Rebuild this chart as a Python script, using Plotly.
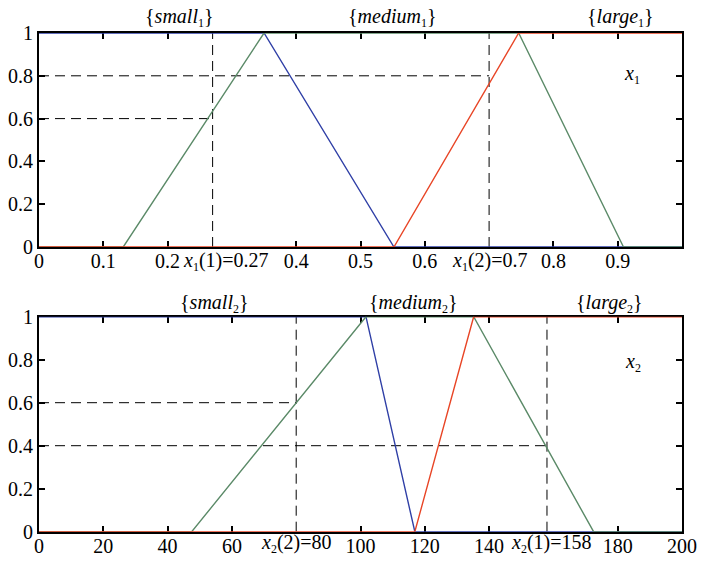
import plotly.graph_objects as go

# Membership functions for input x1 (universe 0..1)
x1_small = [0, 0.35, 0.552, 1]
mu1_small = [1, 1, 0, 0]
x1_medium = [0, 0.131, 0.35, 0.746, 0.909, 1]
mu1_medium = [0, 0, 1, 1, 0, 0]
x1_large = [0, 0.552, 0.746, 1]
mu1_large = [0, 0, 1, 1]

# Membership functions for input x2 (universe 0..200)
x2_small = [0, 101.7, 116.9, 200]
mu2_small = [1, 1, 0, 0]
x2_medium = [0, 47.5, 101.7, 135.2, 172.5, 200]
mu2_medium = [0, 0, 1, 1, 0, 0]
x2_large = [0, 116.9, 135.2, 200]
mu2_large = [0, 0, 1, 1]

# Sample inputs and their membership grades
x1_samples = [0.27, 0.7]
x1_grades = [0.6, 0.8]
x2_samples = [80, 158]
x2_grades = [0.6, 0.4]

# Tick labels
x1_ticks = [0, 0.1, 0.2, 0.4, 0.5, 0.6, 0.8, 0.9]
x1_ticktext = ["0", "0.1", "0.2", "0.4", "0.5", "0.6", "0.8", "0.9"]
x2_ticks = [0, 20, 40, 60, 100, 120, 140, 180, 200]
x2_ticktext = ["0", "20", "40", "60", "100", "120", "140", "180", "200"]
y_ticks = [0, 0.2, 0.4, 0.6, 0.8, 1]
y_ticktext = ["0", "0.2", "0.4", "0.6", "0.8", "1"]

BLUE = "#2f3fa6"
GREEN = "#5b8a68"
RED = "#e84526"
FONT = "Liberation Serif"
FS = 20

fig = go.Figure()

def add_mfs(xs, ys, xa, ya):
    for (x, y), c in zip(zip(xs, ys), [BLUE, GREEN, RED]):
        fig.add_trace(go.Scatter(x=x, y=y, xaxis=xa, yaxis=ya, mode="lines",
                                 line=dict(color=c, width=1.4), cliponaxis=False,
                                 showlegend=False, hoverinfo="skip"))

def add_cuts(samples, grades, xa, ya):
    for s, g in zip(samples, grades):
        fig.add_trace(go.Scatter(x=[s, s], y=[0, 1], xaxis=xa, yaxis=ya, mode="lines",
                                 line=dict(color="black", width=1, dash="10px,6px"),
                                 showlegend=False, hoverinfo="skip"))
        fig.add_trace(go.Scatter(x=[0, s], y=[g, g], xaxis=xa, yaxis=ya, mode="lines",
                                 line=dict(color="black", width=1, dash="10px,6px"),
                                 showlegend=False, hoverinfo="skip"))

add_cuts(x1_samples, x1_grades, "x", "y")
add_mfs([x1_small, x1_medium, x1_large], [mu1_small, mu1_medium, mu1_large], "x", "y")
add_cuts(x2_samples, x2_grades, "x2", "y2")
add_mfs([x2_small, x2_medium, x2_large], [mu2_small, mu2_medium, mu2_large], "x2", "y2")

axis_common = dict(showline=True, linecolor="black", linewidth=2, mirror="ticks",
                   ticks="inside", ticklen=6, tickwidth=2, tickcolor="black",
                   showgrid=False, zeroline=False, layer="below traces",
                   automargin=False,
                   tickfont=dict(family=FONT, size=FS, color="black"))

top_dom = [316 / 563, 530 / 563]
bot_dom = [31.3 / 563, 246.3 / 563]

fig.update_layout(
    width=704, height=563,
    margin=dict(l=39, r=22, t=0, b=0, autoexpand=False),
    paper_bgcolor="white", plot_bgcolor="white",
    font=dict(family=FONT, size=FS, color="black"),
    xaxis=dict(range=[0, 1], tickvals=x1_ticks, ticktext=x1_ticktext,
               anchor="y", ticklabelstandoff=-5, **axis_common),
    yaxis=dict(range=[0, 1], tickvals=y_ticks, ticktext=y_ticktext,
               domain=top_dom, anchor="x", **axis_common),
    xaxis2=dict(range=[0, 200], tickvals=x2_ticks, ticktext=x2_ticktext,
                anchor="y2", ticklabelstandoff=-5, **axis_common),
    yaxis2=dict(range=[0, 1], tickvals=y_ticks, ticktext=y_ticktext,
                domain=bot_dom, anchor="x2", **axis_common),
)

def sub(s):
    return "<sub><span style='font-size:12px'>%s</span></sub>" % s

def label(text, x, y, xref, yref):
    fig.add_annotation(text=text, x=x, y=y, xref=xref, yref=yref, showarrow=False,
                       xanchor="center", yanchor="middle",
                       font=dict(family=FONT, size=FS, color="black"))

# Fuzzy set names above each panel
label("{<i>small</i>" + sub(1) + "}", 0.219, 0.9698, "x", "paper")
label("{<i>medium</i>" + sub(1) + "}", 0.549, 0.9698, "x", "paper")
label("{<i>large</i>" + sub(1) + "}", 0.904, 0.9698, "x", "paper")
label("{<i>small</i>" + sub(2) + "}", 54.7, 0.4618, "x2", "paper")
label("{<i>medium</i>" + sub(2) + "}", 116.6, 0.4618, "x2", "paper")
label("{<i>large</i>" + sub(2) + "}", 177.6, 0.4618, "x2", "paper")

# Input variable names
label("<i>x</i>" + sub(1), 0.922, 0.804, "x", "y")
label("<i>x</i>" + sub(2), 184.8, 0.789, "x2", "y2")

# Sample values written on the x axes
label("<i>x</i>" + sub(1) + "(1)=%g" % x1_samples[0], 0.291, 0.5364, "x", "paper")
label("<i>x</i>" + sub(1) + "(2)=%g" % x1_samples[1], 0.701, 0.5364, "x", "paper")
label("<i>x</i>" + sub(2) + "(2)=%g" % x2_samples[0], 80.2, 0.0355, "x2", "paper")
label("<i>x</i>" + sub(2) + "(1)=%g" % x2_samples[1], 159.4, 0.0355, "x2", "paper")

fig.write_html("out.html")
